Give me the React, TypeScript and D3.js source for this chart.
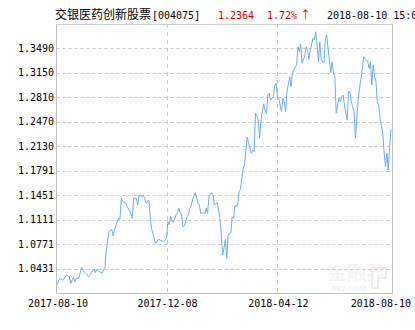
import React from 'react';
import * as d3 from 'd3';

const days = [0,2,4,5,7,9,10,12,13,14,16,18,19,21,23,25,27,28,29,31,33,34,35,36,38,40,41,42,44,45,46,47,48,50,52,54,55,56,58,59,60,62,63,64,65,67,68,69,71,72,74,78,80,81,82,83,84,85,87,88,89,90,91,92,93,95,96,97,98,99,101,103,104,105,107,108,109,110,111,113,114,115,117,118,119,120,121,122,123,124,125,127,128,129,130,132,133,134,136,137,138,139,140,142,143,144,145,146,147,148,149,151,152,153,154,155,156,158,159,160,161,162,164,165,166,167,168,170,171,172,173,175,176,177,178,179,181,182,183,184,185,186,187,188,189,190,191,192,193,195,196,197,198,200,201,202,203,204,206,207,208,209,210,212,213,214,215,217,218,219,220,221,223,224,225,227,228,229,230,231,232,233,234,235,236,238,239,240,241,242,243,244];
const navs = [1.0203,1.0296,1.0272,1.0286,1.0342,1.0318,1.0226,1.0310,1.0249,1.0296,1.0296,1.0449,1.0402,1.0365,1.0318,1.0374,1.0421,1.0374,1.0421,1.0388,1.0365,1.0411,1.0435,1.0689,1.0944,1.0977,1.0884,1.0967,1.1083,1.1130,1.1116,1.1408,1.1361,1.1338,1.1269,1.1199,1.1130,1.1408,1.1408,1.1315,1.1454,1.1430,1.1454,1.1408,1.1338,1.1384,1.1176,1.0991,1.0852,1.0782,1.0838,1.0805,1.0852,1.1083,1.1037,1.1152,1.1097,1.1069,1.1176,1.1208,1.1269,1.1208,1.1190,1.1013,1.1023,1.1152,1.1176,1.1269,1.1301,1.1384,1.1486,1.1338,1.1315,1.1199,1.1208,1.1190,1.1269,1.1199,1.1430,1.1486,1.1454,1.1315,1.1347,1.1245,1.1130,1.0921,1.0620,1.0713,1.0838,1.0574,1.0898,1.0922,1.1152,1.1130,1.1301,1.1315,1.1500,1.1533,1.1825,1.1871,1.2079,1.2256,1.2172,1.2033,1.2079,1.2056,1.2590,1.2552,1.2496,1.2242,1.2496,1.2719,1.2635,1.2580,1.2844,1.2868,1.2774,1.2820,1.2969,1.3007,1.2820,1.2798,1.2612,1.2798,1.2751,1.2612,1.2890,1.3098,1.2959,1.3146,1.3192,1.3261,1.3516,1.3446,1.3553,1.3285,1.3386,1.3516,1.3469,1.3340,1.3469,1.3539,1.3632,1.3609,1.3724,1.3539,1.3307,1.3585,1.3331,1.3285,1.3609,1.3678,1.3493,1.3154,1.3307,1.3146,1.3098,1.2590,1.2798,1.2751,1.2820,1.2844,1.2705,1.2496,1.2890,1.2890,1.2751,1.2612,1.2242,1.2496,1.2774,1.2937,1.3192,1.3376,1.3354,1.3307,1.3215,1.3307,1.2983,1.3261,1.3098,1.3028,1.2751,1.2705,1.2520,1.2312,1.2033,1.1847,1.2033,1.1801,1.2131,1.2364];

const yTicks = [1.00915,1.0431,1.0771,1.1111,1.1451,1.1791,1.2130,1.2470,1.2810,1.3150,1.3490,1.3830];
const yLabels = ['','1.0431','1.0771','1.1111','1.1451','1.1791','1.2130','1.2470','1.2810','1.3150','1.3490',''];
const xTickDays = [0, 80, 161, 244];
const xTickLabels = ['2017-08-10', '2017-12-08', '2018-04-12', '2018-08-10'];

const fundName = '交银医药创新股票';
const fundCode = '[004075]';
const lastNav = '1.2364';
const lastChange = '1.72%';
const arrow = '↑';
const lastTime = '2018-08-10 15:00';

const W = 415, H = 330;
const L = 56.5, R = 392.5, T = 24, B = 293;
const mono = '"DejaVu Sans Mono", monospace';
const cjk = '"Noto Sans CJK SC", sans-serif';

export default function App() {
  const x = d3.scaleLinear().domain([0, 244]).range([57, 391]);
  const y = d3.scaleLinear().domain([yTicks[0], yTicks[yTicks.length - 1]]).range([B, T]);
  const line = d3.line<number>().x((_, i) => x(days[i])).y(d => y(d));
  const path = line(navs) || '';
  return (
    <svg width={W} height={H} style={{ position: 'absolute', left: 0, top: 0, background: '#fff' }}>
      <rect x={0} y={0} width={W} height={H} fill="#fff" />
      {/* title */}
      <text x={55} y={19} fontFamily={cjk} fontSize={12} fill="#000">{fundName}</text>
      <text x={152} y={19} fontFamily={mono} fontSize={10} fill="#000">{fundCode}</text>
      <text x={218} y={19} fontFamily={mono} fontSize={10} fill="#cc0000">{lastNav}</text>
      <text x={267} y={19} fontFamily={mono} fontSize={10} fill="#cc0000">{lastChange}</text>
      <text x={300} y={19} fontFamily={cjk} fontSize={11} fill="#cc0000">{arrow}</text>
      <text x={327} y={19} fontFamily={mono} fontSize={10} fill="#000">{lastTime}</text>

      {/* watermark */}
      <g opacity={0.55}>
        <text x={328} y={280} fontFamily={cjk} fontSize={19} fontWeight="bold" fill="#ececec">金融界</text>
        <text x={330} y={291} fontFamily="Liberation Sans, sans-serif" fontSize={8} fontStyle="italic" fontWeight="bold" fill="#e6e6e6">JRJ.COM</text>
        <path d="M372,268 h14 v10 h-8 v10 h-6 z" fill="none" stroke="#f3d4d4" strokeWidth={2} />
      </g>

      {/* horizontal grid */}
      {yTicks.slice(1, -1).map((t, i) => (
        <line key={'h' + i} x1={L} x2={R} y1={Math.round(y(t)) + 0.5} y2={Math.round(y(t)) + 0.5}
          stroke="#c8c8c8" strokeDasharray="3,3" strokeWidth={1} />
      ))}
      {/* vertical grid */}
      {xTickDays.slice(1, -1).map((d, i) => (
        <line key={'v' + i} x1={Math.round(x(d)) + 0.5} x2={Math.round(x(d)) + 0.5} y1={T} y2={B}
          stroke="#c8c8c8" strokeDasharray="4,4" strokeWidth={1} />
      ))}
      {/* frame */}
      <line x1={L} x2={R} y1={T + 0.5} y2={T + 0.5} stroke="#d0d0d0" />
      <line x1={L} x2={R} y1={B + 0.5} y2={B + 0.5} stroke="#c0c0c0" />
      <line x1={L} x2={L} y1={T} y2={B} stroke="#c0c0c0" />
      <line x1={R} x2={R} y1={T} y2={B} stroke="#c0c0c0" />

      {/* series */}
      <path d={path} fill="none" stroke="#6aaeec" strokeWidth={1} />

      {/* y labels */}
      {yTicks.map((t, i) => yLabels[i] ? (
        <text key={'yl' + i} x={54} y={y(t) + 3.5} textAnchor="end" fontFamily={mono} fontSize={10} fill="#000">{yLabels[i]}</text>
      ) : null)}
      {/* x labels */}
      {xTickDays.map((d, i) => {
        const last = i === xTickDays.length - 1;
        return (
          <text key={'xl' + i} x={last ? 411 : x(d) + 1} y={307} textAnchor={last ? 'end' : 'middle'}
            fontFamily={mono} fontSize={10} fill="#000">{xTickLabels[i]}</text>
        );
      })}
    </svg>
  );
}
